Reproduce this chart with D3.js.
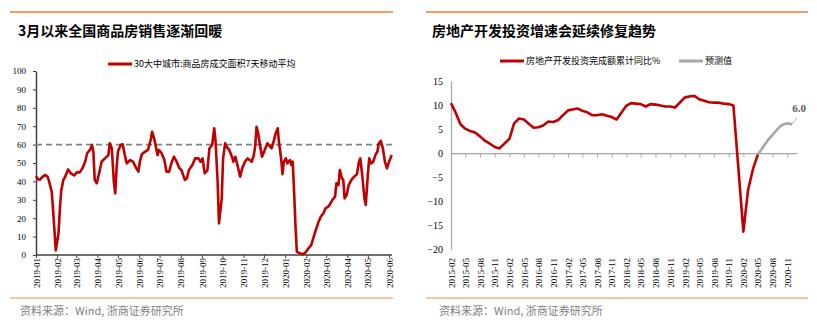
<!DOCTYPE html>
<html><head><meta charset="utf-8">
<script src="https://cdn.jsdelivr.net/npm/d3@7"></script>
<style>body{margin:0;background:#fff}svg{display:block}</style>
</head><body><svg id="c" width="817" height="323"></svg>
<script>
// ---------- LEFT CHART DATA ----------
const leftTitle = "3月以来全国商品房销售逐渐回暖";
const leftSeriesName = "30大中城市:商品房成交面积7天移动平均";
const salesDates = [
"2019-01-01","2019-01-04","2019-01-07","2019-01-09","2019-01-14","2019-01-18","2019-01-20","2019-01-24","2019-01-26","2019-01-30",
"2019-02-03","2019-02-05","2019-02-07","2019-02-10","2019-02-12","2019-02-17","2019-02-21","2019-02-26","2019-03-02","2019-03-06",
"2019-03-10","2019-03-14","2019-03-17","2019-03-21","2019-03-24","2019-03-26","2019-03-28","2019-03-31","2019-04-04","2019-04-07",
"2019-04-12","2019-04-17","2019-04-19","2019-04-22","2019-04-25","2019-04-27","2019-04-29","2019-05-01","2019-05-05","2019-05-08",
"2019-05-11","2019-05-14","2019-05-19","2019-05-23","2019-05-28","2019-05-31","2019-06-02","2019-06-05","2019-06-10","2019-06-14",
"2019-06-18","2019-06-20","2019-06-23","2019-06-26","2019-06-28","2019-06-30","2019-07-04","2019-07-08","2019-07-11","2019-07-15",
"2019-07-19","2019-07-22","2019-07-26","2019-07-30","2019-08-02","2019-08-07","2019-08-10","2019-08-13","2019-08-18","2019-08-22",
"2019-08-27","2019-08-30","2019-09-02","2019-09-05","2019-09-09","2019-09-12","2019-09-16","2019-09-19","2019-09-21","2019-09-24",
"2019-09-26","2019-09-30","2019-10-02","2019-10-05","2019-10-07","2019-10-11","2019-10-15","2019-10-17","2019-10-20","2019-10-23",
"2019-10-27","2019-10-30","2019-11-03","2019-11-07","2019-11-13","2019-11-16","2019-11-18","2019-11-20","2019-11-22","2019-11-25",
"2019-11-28","2019-12-02","2019-12-06","2019-12-10","2019-12-12","2019-12-15","2019-12-18","2019-12-21","2019-12-23","2019-12-26",
"2019-12-28","2019-12-30","2020-01-02","2020-01-04","2020-01-08","2020-01-10","2020-01-12","2020-01-14","2020-01-16","2020-01-18",
"2020-01-22","2020-01-27","2020-01-31","2020-02-04","2020-02-08","2020-02-11","2020-02-14","2020-02-18","2020-02-22","2020-02-26",
"2020-02-29","2020-03-04","2020-03-06","2020-03-10","2020-03-14","2020-03-16","2020-03-19","2020-03-21","2020-03-24","2020-03-26",
"2020-03-28","2020-03-31","2020-04-03","2020-04-07","2020-04-11","2020-04-15","2020-04-18","2020-04-20","2020-04-23","2020-04-26",
"2020-04-28","2020-05-01","2020-05-03","2020-05-06","2020-05-09","2020-05-12","2020-05-15","2020-05-17","2020-05-20","2020-05-23",
"2020-05-26","2020-05-29","2020-06-01","2020-06-05"
];
const salesValues = [
42.9,41.1,41.0,42.0,43.5,42.6,40.2,34.4,24.5,2.5,
11.8,25.4,35.0,40.8,42.0,46.5,44.4,43.2,45.0,44.9,
47.1,50.7,55.3,57.1,59.8,56.2,40.8,39.0,45.3,50.7,
52.5,54.3,60.7,58.0,39.8,33.5,47.1,56.2,59.8,60.2,
54.3,49.8,51.6,50.7,47.1,45.3,50.7,54.7,56.2,57.1,
62.5,67.0,63.4,58.0,54.3,57.1,55.3,51.6,45.3,45.3,
50.7,53.4,50.7,47.1,46.2,40.8,41.7,46.2,48.9,52.5,
52.5,50.7,52.5,44.4,46.0,58.0,59.8,68.9,61.6,39.8,
17.2,30.8,52.5,60.7,58.9,57.1,53.4,50.7,53.4,48.9,
42.6,47.1,50.7,52.5,50.7,54.3,58.9,69.7,67.0,59.8,
53.4,57.1,60.7,58.9,58.0,61.6,66.1,68.9,60.7,52.5,
43.9,50.7,52.5,49.8,51.6,48.9,50.7,34.4,16.3,1.8,
0.9,0.4,1.5,3.6,5.4,9.1,12.7,17.2,20.8,22.7,
25.4,26.3,27.2,29.9,31.7,39.0,38.0,46.2,41.7,40.8,
30.8,32.6,38.0,40.8,42.6,43.9,50.7,52.5,42.6,30.8,
27.2,43.5,52.5,49.8,50.7,54.3,56.2,60.7,62.0,58.0,
50.7,47.1,50.7,54.3
];
const salesRefLevel = 60;
const leftYTicks = [0,10,20,30,40,50,60,70,80,90,100];
const leftXTicks = ["2019-01","2019-02","2019-03","2019-04","2019-05","2019-06","2019-07","2019-08","2019-09",
"2019-10","2019-11","2019-12","2020-01","2020-02","2020-03","2020-04","2020-05","2020-06"];

// ---------- RIGHT CHART DATA ----------
const rightTitle = "房地产开发投资增速会延续修复趋势";
const invSeriesName = "房地产开发投资完成额累计同比%";
const forecastName = "预测值";
const invMonths = [
"2015-02","2015-03","2015-04","2015-05","2015-06","2015-07","2015-08","2015-09","2015-10","2015-11","2015-12",
"2016-02","2016-03","2016-04","2016-05","2016-06","2016-07","2016-08","2016-09","2016-10","2016-11","2016-12",
"2017-02","2017-03","2017-04","2017-05","2017-06","2017-07","2017-08","2017-09","2017-10","2017-11","2017-12",
"2018-02","2018-03","2018-04","2018-05","2018-06","2018-07","2018-08","2018-09","2018-10","2018-11","2018-12",
"2019-02","2019-03","2019-04","2019-05","2019-06","2019-07","2019-08","2019-09","2019-10","2019-11","2019-12",
"2020-02","2020-03","2020-04","2020-05"
];
const invValues = [
10.4,8.5,6.0,5.1,4.6,4.3,3.5,2.6,2.0,1.3,1.0,
3.0,6.2,7.2,7.0,6.1,5.3,5.4,5.8,6.6,6.5,6.9,
8.9,9.1,9.3,8.8,8.5,7.9,7.9,8.1,7.8,7.5,7.0,
9.9,10.4,10.3,10.2,9.7,10.2,10.1,9.9,9.7,9.7,9.5,
11.6,11.8,11.9,11.2,10.9,10.6,10.5,10.5,10.3,10.2,9.9,
-16.3,-7.7,-3.3,-0.3
];
const forecastMonths = ["2020-05","2020-06","2020-07","2020-08","2020-09","2020-10","2020-11","2020-12"];
const forecastValues = [-0.3,1.2,2.6,3.8,5.0,5.9,6.2,6.0];
const rightYTicks = [15,10,5,0,-5,-10,-15,-20];
const rightXTicks = ["2015-02","2015-05","2015-08","2015-11","2016-02","2016-05","2016-08","2016-11",
"2017-02","2017-05","2017-08","2017-11","2018-02","2018-05","2018-08","2018-11",
"2019-02","2019-05","2019-08","2019-11","2020-02","2020-05","2020-08","2020-11"];
const sourceText = "资料来源：Wind, 浙商证券研究所";

// ---------- DRAW ----------
const svg = d3.select("#c");
svg.append("rect").attr("width",817).attr("height",323).attr("fill","#fff");
const CJK = "'Noto Sans CJK SC','Noto Sans',sans-serif";
const NUM = "'Liberation Serif','Times New Roman',serif";
const RED = "#C00000", GRAY = "#A6A6A6", ORANGE = "#ED7D31", ORANGE2 = "#F4B183";
const pDay = d3.timeParse("%Y-%m-%d"), pMon = d3.timeParse("%Y-%m");

function frame(x0, x1, tx, title, srcX) {
  svg.append("line").attr("x1",x0).attr("x2",x1).attr("y1",12).attr("y2",12)
    .attr("stroke",ORANGE).attr("stroke-width",1.5);
  svg.append("text").attr("x",tx).attr("y",36).text(title)
    .attr("font-family",CJK).attr("font-weight","bold").attr("font-size",14).attr("fill","#000");
  svg.append("line").attr("x1",x0).attr("x2",x1).attr("y1",298).attr("y2",298)
    .attr("stroke",ORANGE2).attr("stroke-width",1.5);
  svg.append("text").attr("x",srcX).attr("y",315).text(sourceText)
    .attr("font-family",CJK).attr("font-size",11).attr("fill","#7F7F7F");
}
frame(10, 393, 18, leftTitle, 20);
frame(426, 808, 432, rightTitle, 439);

function legendItem(x, y, color, label) {
  svg.append("line").attr("x1",x).attr("x2",x+24).attr("y1",y).attr("y2",y)
    .attr("stroke",color).attr("stroke-width",3);
  svg.append("text").attr("x",x+26).attr("y",y).attr("dy","0.35em").text(label)
    .attr("font-family",CJK).attr("font-size",9).attr("fill","#000");
}
legendItem(108, 64, RED, leftSeriesName);
legendItem(500, 61, RED, invSeriesName);
legendItem(679, 61, GRAY, forecastName);

function rotateLabels(g) {
  g.selectAll(".tick text").attr("transform","rotate(-90)")
    .attr("text-anchor","end").attr("x",-3).attr("y",0).attr("dy","0.35em")
    .attr("font-family",NUM).attr("font-size",9).attr("fill","#000");
}

// ----- left chart -----
const xL = d3.scaleTime().domain([pMon("2019-01"), pMon("2020-06")]).range([36, 389]);
const yL = d3.scaleLinear().domain([0,100]).range([255, 71]);
const gLy = svg.append("g").attr("transform","translate(36,0)")
  .call(d3.axisLeft(yL).tickValues(leftYTicks).tickSize(3).tickSizeOuter(0).tickPadding(7));
gLy.select(".domain").attr("stroke","#404040").attr("stroke-width",1.5);
gLy.selectAll(".tick line").attr("stroke","#404040");
gLy.selectAll(".tick text").attr("font-family",NUM).attr("font-size",9).attr("fill","#000");
const gLx = svg.append("g").attr("transform","translate(0,255)")
  .call(d3.axisBottom(xL).tickValues(leftXTicks.map(pMon)).tickFormat(d3.timeFormat("%Y-%m")).tickSize(3).tickSizeOuter(0));
gLx.select(".domain").attr("d","M36,0H392").attr("stroke","#404040").attr("stroke-width",1.5);
gLx.selectAll(".tick line").attr("stroke","#404040");
rotateLabels(gLx);
svg.append("line").attr("x1",36).attr("x2",392).attr("y1",yL(salesRefLevel)).attr("y2",yL(salesRefLevel))
  .attr("stroke","#808080").attr("stroke-width",1.6).attr("stroke-dasharray","6,4");
const salesData = salesDates.map((d,i)=>({d:pDay(d), v:salesValues[i]}));
svg.append("path").datum(salesData)
  .attr("d", d3.line().x(p=>xL(p.d)).y(p=>yL(p.v)))
  .attr("fill","none").attr("stroke",RED).attr("stroke-width",2.6).attr("stroke-linejoin","round");

// ----- right chart -----
const xR = d3.scaleTime().domain([pMon("2015-02"), pMon("2021-01")]).range([451, 797]);
const yR = d3.scaleLinear().domain([-20,15]).range([249.5, 81]);
const gRy = svg.append("g").attr("transform","translate(451,0)")
  .call(d3.axisLeft(yR).tickValues(rightYTicks).tickSize(0).tickPadding(8));
gRy.select(".domain").attr("stroke",GRAY).attr("stroke-width",1.2);
gRy.selectAll(".tick text").attr("font-family",NUM).attr("font-size",10).attr("fill","#000");
const gR0 = svg.append("g").attr("transform",`translate(0,${yR(0)})`)
  .call(d3.axisBottom(xR).tickValues(rightXTicks.map(pMon)).tickFormat("").tickSize(4).tickSizeOuter(0));
gR0.select(".domain").attr("stroke",GRAY).attr("stroke-width",1.2);
gR0.selectAll(".tick line").attr("stroke",GRAY);
const gRx = svg.append("g").attr("transform","translate(0,255)")
  .call(d3.axisBottom(xR).tickValues(rightXTicks.map(pMon)).tickFormat(d3.timeFormat("%Y-%m")).tickSize(0));
gRx.select(".domain").remove();
rotateLabels(gRx);

const invData = invMonths.map((m,i)=>({d:pMon(m), v:invValues[i]}));
const fcData = forecastMonths.map((m,i)=>({d:pMon(m), v:forecastValues[i]}));
const lineR = d3.line().x(p=>xR(p.d)).y(p=>yR(p.v));
svg.append("path").datum(fcData).attr("d",lineR)
  .attr("fill","none").attr("stroke",GRAY).attr("stroke-width",2.6).attr("stroke-linejoin","round");
svg.append("path").datum(invData).attr("d",lineR)
  .attr("fill","none").attr("stroke",RED).attr("stroke-width",2.6).attr("stroke-linejoin","round");
const last = fcData[fcData.length-1];
svg.append("line").attr("x1",xR(last.d)).attr("y1",yR(last.v)).attr("x2",xR(last.d)+5).attr("y2",yR(last.v)-7)
  .attr("stroke",GRAY).attr("stroke-width",0.8);
svg.append("text").attr("x",xR(last.d)+7).attr("y",yR(last.v)-12).attr("text-anchor","middle")
  .text(last.v.toFixed(1)).attr("font-family",NUM).attr("font-weight","bold").attr("font-size",11).attr("fill","#595959");
</script></body></html>
